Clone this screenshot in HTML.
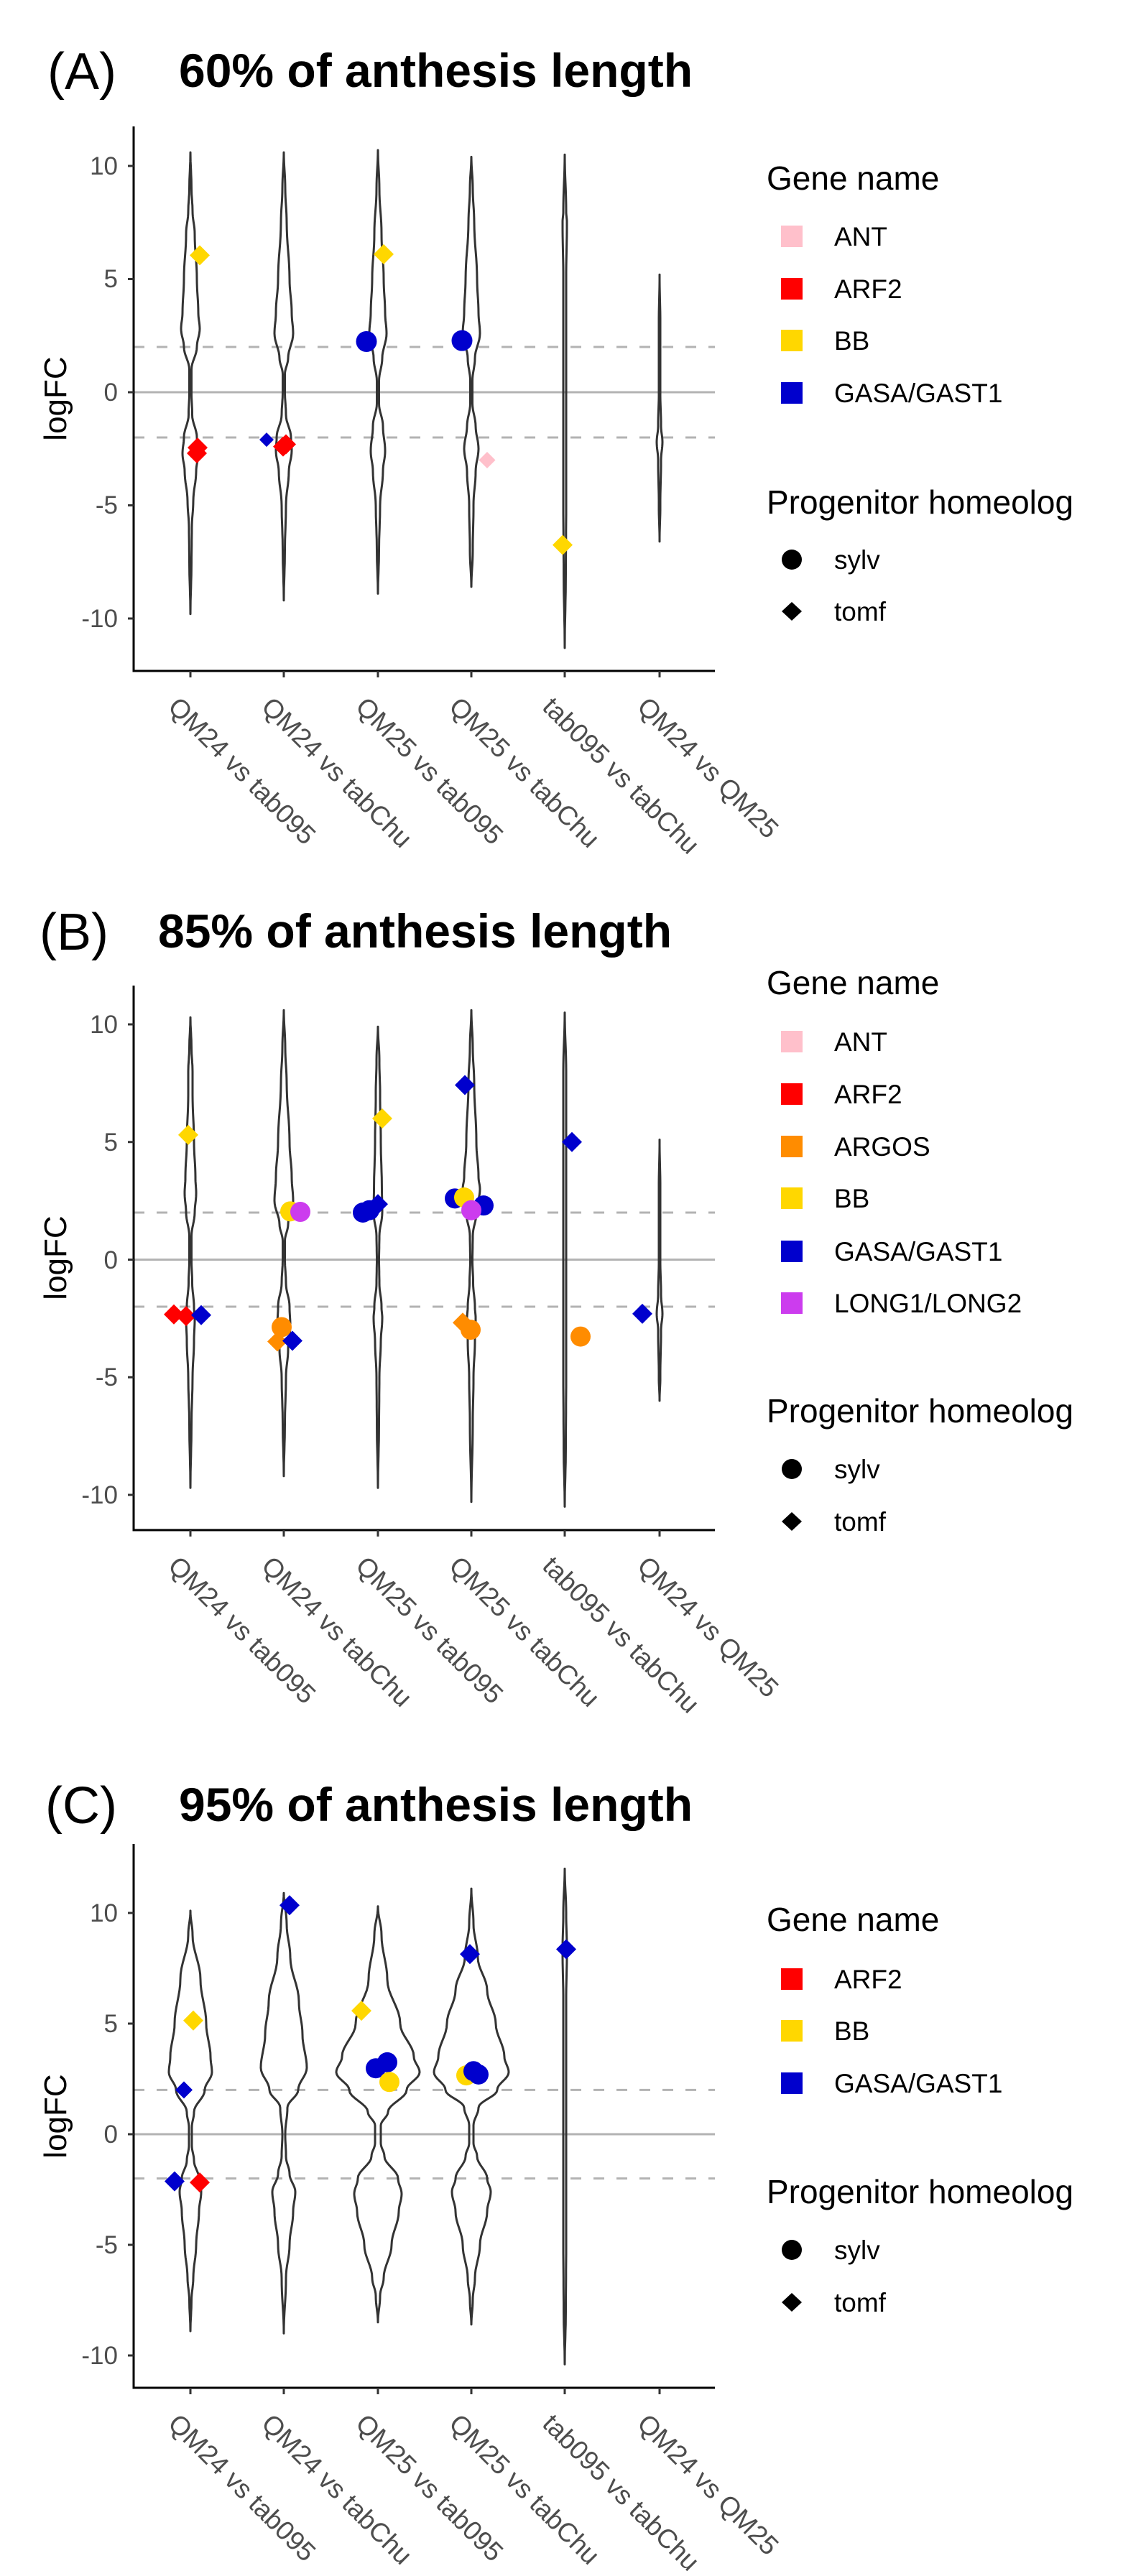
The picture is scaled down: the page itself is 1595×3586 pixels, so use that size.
<!DOCTYPE html>
<html><head><meta charset="utf-8"><style>
html,body{margin:0;padding:0;background:#fff;}
svg{display:block;}
text{font-family:"Liberation Sans",Arial,sans-serif;}
.tk{font-size:35px;fill:#4d4d4d;text-anchor:end;}
.xl{font-size:37px;fill:#4d4d4d;}
.yt{font-size:44px;fill:#000;}
.lt{font-size:46px;fill:#000;}
.ll{font-size:37px;fill:#000;}
.pl{font-size:72px;fill:#000;}
.tt{font-size:66px;font-weight:bold;fill:#000;}
</style></head><body>
<svg id="s" width="1595" height="3586" viewBox="0 0 1595 3586" xmlns="http://www.w3.org/2000/svg">
<rect width="1595" height="3586" fill="#fff"/>
<!-- Titles -->
<text class="pl" x="66" y="124">(A)</text>
<text class="tt" x="249" y="121" textLength="715" lengthAdjust="spacingAndGlyphs">60% of anthesis length</text>
<text class="pl" x="55" y="1322">(B)</text>
<text class="tt" x="220" y="1319" textLength="715" lengthAdjust="spacingAndGlyphs">85% of anthesis length</text>
<text class="pl" x="63" y="2538">(C)</text>
<text class="tt" x="249" y="2535" textLength="715" lengthAdjust="spacingAndGlyphs">95% of anthesis length</text>

<!-- y titles -->
<text class="yt" transform="translate(92,555) rotate(-90)" text-anchor="middle">logFC</text>
<text class="yt" transform="translate(92,1751) rotate(-90)" text-anchor="middle">logFC</text>
<text class="yt" transform="translate(92,2946) rotate(-90)" text-anchor="middle">logFC</text>

<!-- tick labels A -->
<text class="tk" x="164" y="243">10</text><text class="tk" x="164" y="400">5</text><text class="tk" x="164" y="558">0</text><text class="tk" x="164" y="715">-5</text><text class="tk" x="164" y="873">-10</text>
<!-- B -->
<text class="tk" x="164" y="1438">10</text><text class="tk" x="164" y="1602">5</text><text class="tk" x="164" y="1766">0</text><text class="tk" x="164" y="1929">-5</text><text class="tk" x="164" y="2093">-10</text>
<!-- C -->
<text class="tk" x="164" y="2675">10</text><text class="tk" x="164" y="2829">5</text><text class="tk" x="164" y="2983">0</text><text class="tk" x="164" y="3137">-5</text><text class="tk" x="164" y="3291">-10</text>

<!-- x labels A -->
<g id="xlA">
<text class="xl" transform="translate(232,986) rotate(45)">QM24 vs tab095</text>
<text class="xl" transform="translate(362,986) rotate(45)">QM24 vs tabChu</text>
<text class="xl" transform="translate(493,986) rotate(45)">QM25 vs tab095</text>
<text class="xl" transform="translate(623,986) rotate(45)">QM25 vs tabChu</text>
<text class="xl" transform="translate(753,986) rotate(45)">tab095 vs tabChu</text>
<text class="xl" transform="translate(885,986) rotate(45)">QM24 vs QM25</text>
</g>
<g>
<text class="xl" transform="translate(232,2182) rotate(45)">QM24 vs tab095</text>
<text class="xl" transform="translate(362,2182) rotate(45)">QM24 vs tabChu</text>
<text class="xl" transform="translate(493,2182) rotate(45)">QM25 vs tab095</text>
<text class="xl" transform="translate(623,2182) rotate(45)">QM25 vs tabChu</text>
<text class="xl" transform="translate(753,2182) rotate(45)">tab095 vs tabChu</text>
<text class="xl" transform="translate(885,2182) rotate(45)">QM24 vs QM25</text>
</g>
<g>
<text class="xl" transform="translate(232,3376) rotate(45)">QM24 vs tab095</text>
<text class="xl" transform="translate(362,3376) rotate(45)">QM24 vs tabChu</text>
<text class="xl" transform="translate(493,3376) rotate(45)">QM25 vs tab095</text>
<text class="xl" transform="translate(623,3376) rotate(45)">QM25 vs tabChu</text>
<text class="xl" transform="translate(753,3376) rotate(45)">tab095 vs tabChu</text>
<text class="xl" transform="translate(885,3376) rotate(45)">QM24 vs QM25</text>
</g>

<!-- Legends A -->
<text class="lt" x="1067" y="264">Gene name</text>
<rect x="1087" y="314" width="30" height="30" fill="#FFC0CB"/><text class="ll" x="1161" y="342">ANT</text>
<rect x="1087" y="387" width="30" height="30" fill="#FF0000"/><text class="ll" x="1161" y="415">ARF2</text>
<rect x="1087" y="459" width="30" height="30" fill="#FFD700"/><text class="ll" x="1161" y="487">BB</text>
<rect x="1087" y="532" width="30" height="30" fill="#0000CD"/><text class="ll" x="1161" y="560">GASA/GAST1</text>
<text class="lt" x="1067" y="715">Progenitor homeolog</text>
<circle cx="1102" cy="779" r="14" fill="#000"/><text class="ll" x="1161" y="792">sylv</text>
<path d="M1102 838 L1116 851 L1102 864 L1088 851 Z" fill="#000"/><text class="ll" x="1161" y="864">tomf</text>

<!-- Legend B -->
<text class="lt" x="1067" y="1384">Gene name</text>
<rect x="1087" y="1435" width="30" height="30" fill="#FFC0CB"/><text class="ll" x="1161" y="1463">ANT</text>
<rect x="1087" y="1508" width="30" height="30" fill="#FF0000"/><text class="ll" x="1161" y="1536">ARF2</text>
<rect x="1087" y="1581" width="30" height="30" fill="#FF8C00"/><text class="ll" x="1161" y="1609">ARGOS</text>
<rect x="1087" y="1653" width="30" height="30" fill="#FFD700"/><text class="ll" x="1161" y="1681">BB</text>
<rect x="1087" y="1727" width="30" height="30" fill="#0000CD"/><text class="ll" x="1161" y="1755">GASA/GAST1</text>
<rect x="1087" y="1799" width="30" height="30" fill="#CC3CEE"/><text class="ll" x="1161" y="1827">LONG1/LONG2</text>
<text class="lt" x="1067" y="1980">Progenitor homeolog</text>
<circle cx="1102" cy="2045" r="14" fill="#000"/><text class="ll" x="1161" y="2058">sylv</text>
<path d="M1102 2105 L1116 2118 L1102 2131 L1088 2118 Z" fill="#000"/><text class="ll" x="1161" y="2131">tomf</text>

<!-- Legend C -->
<text class="lt" x="1067" y="2688">Gene name</text>
<rect x="1087" y="2740" width="30" height="30" fill="#FF0000"/><text class="ll" x="1161" y="2768">ARF2</text>
<rect x="1087" y="2812" width="30" height="30" fill="#FFD700"/><text class="ll" x="1161" y="2840">BB</text>
<rect x="1087" y="2885" width="30" height="30" fill="#0000CD"/><text class="ll" x="1161" y="2913">GASA/GAST1</text>
<text class="lt" x="1067" y="3067">Progenitor homeolog</text>
<circle cx="1102" cy="3132" r="14" fill="#000"/><text class="ll" x="1161" y="3145">sylv</text>
<path d="M1102 3192 L1116 3205 L1102 3218 L1088 3205 Z" fill="#000"/><text class="ll" x="1161" y="3218">tomf</text>

<g id="plots"></g>
</svg>
<script>
(function(){
var NS="http://www.w3.org/2000/svg";
var g=document.getElementById("plots");
function el(t,a){var e=document.createElementNS(NS,t);for(var k in a)e.setAttribute(k,a[k]);g.appendChild(e);return e;}
var X=[265,395,526,656,786,918];
var C={p:"#FFC0CB",r:"#FF0000",o:"#FF8C00",y:"#FFD700",b:"#0000CD",v:"#CC3CEE"};
function panel(P){
  var Y=function(v){return P.z-P.u*v;};
  // ref lines
  el("line",{x1:186,x2:995,y1:Y(0),y2:Y(0),stroke:"#b3b3b3","stroke-width":3});
  el("line",{x1:186,x2:995,y1:Y(2),y2:Y(2),stroke:"#b3b3b3","stroke-width":3,"stroke-dasharray":"15 17"});
  el("line",{x1:186,x2:995,y1:Y(-2),y2:Y(-2),stroke:"#b3b3b3","stroke-width":3,"stroke-dasharray":"15 17"});
  // violins
  P.v.forEach(function(pr,i){
    if(!pr)return;
    var cx=X[i],L=[],R=[];
    // sample with smooth (cosine) interpolation
    for(var j=0;j<pr.length-1;j++){
      var a=pr[j],b=pr[j+1];
      for(var s=0;s<8;s++){var t=s/8,w=(1-Math.cos(t*Math.PI))/2;var v=a[0]+(b[0]-a[0])*t,h=a[1]+(b[1]-a[1])*w;
        L.push((cx-h).toFixed(1)+" "+Y(v).toFixed(1));R.push((cx+h).toFixed(1)+" "+Y(v).toFixed(1));}
    }
    var last=pr[pr.length-1];
    L.push((cx-last[1])+" "+Y(last[0]).toFixed(1));R.push((cx+last[1])+" "+Y(last[0]).toFixed(1));
    el("path",{d:"M"+L.join(" L")+" L"+R.reverse().join(" L")+"Z",fill:"none",stroke:"#333","stroke-width":3,"stroke-linejoin":"round"});
  });
  // points
  P.pts.forEach(function(p){
    var x=p[0],y=Y(p[1]),c=C[p[3]],s=p[4]||14;
    if(p[2]=="c")el("circle",{cx:x,cy:y,r:s,fill:c});
    else el("path",{d:"M"+x+" "+(y-s)+" L"+(x+s)+" "+y+" L"+x+" "+(y+s)+" L"+(x-s)+" "+y+"Z",fill:c});
  });
  // axes
  el("line",{x1:186,x2:186,y1:P.t,y2:P.b+1.5,stroke:"#000","stroke-width":3});
  el("line",{x1:184.5,x2:995,y1:P.b,y2:P.b,stroke:"#000","stroke-width":3});
  [10,5,0,-5,-10].forEach(function(v){el("line",{x1:178,x2:186,y1:Y(v),y2:Y(v),stroke:"#333","stroke-width":3});});
  X.forEach(function(x){el("line",{x1:x,x2:x,y1:P.b,y2:P.b+9,stroke:"#333","stroke-width":3});});
}
panel({z:546,u:31.5,t:176,b:934,
 v:[
  [[10.6,0],[9,1.5],[8,3],[7,6],[5,9],[3.5,11],[2.8,13],[2,9],[1,1.5],[0,1.5],[-1,2.5],[-2,9],[-2.7,11],[-3.5,8],[-4.8,4],[-6,2],[-7.5,1.5],[-9.8,0]],
  [[10.6,0],[9,2],[7.5,4],[5,8],[3.5,11],[2.6,13],[1.5,6],[0.8,1.5],[0,1.5],[-1,3],[-2,10],[-2.6,11],[-3.5,7],[-5,3],[-7,1.5],[-9.2,0]],
  [[10.7,0],[9,2],[7,5],[5,8],[3.5,10],[2.6,12],[1.5,6],[0.5,1.5],[-0.5,1.5],[-1.5,7],[-2.6,10],[-3.5,7],[-5,3],[-7,1.5],[-8.9,0]],
  [[10.4,0],[9,2],[7.5,4],[5,8],[3.5,10],[2.6,12],[1.5,5],[0.5,1.5],[-0.5,1.5],[-1.5,6],[-2.5,10],[-3.5,6],[-5,3],[-7,2],[-8.6,0]],
  [[10.5,0],[8,2],[7.5,3],[5,2],[0,2],[-5,2],[-8,1.5],[-11.3,0]],
  [[5.2,0],[3,1],[0,1],[-1.5,2],[-2.2,4],[-3,2],[-5,1],[-6.6,0]]
 ],
 pts:[[278,6.05,"d","y"],[275,-2.45,"d","r"],[274,-2.7,"d","r"],[371,-2.1,"d","b",10],[398,-2.3,"d","r"],[394,-2.4,"d","r"],
  [510,2.24,"c","b",14.5],[534,6.1,"d","y"],[643,2.28,"c","b",14.5],[678,-3.0,"d","p",11.5],[783,-6.75,"d","y"]]
});
panel({z:1753.5,u:32.75,t:1372,b:2130,
 v:[
  [[10.3,0],[9,1.5],[8,3],[7,3],[5,5],[3.5,7],[2.8,8],[2,6],[1,1.5],[0,1.5],[-1,2.5],[-2,5],[-2.5,6],[-3.5,5],[-5,3],[-7,1.5],[-9.7,0]],
  [[10.6,0],[9,2],[7.5,4],[5,8],[3.5,11],[2.5,13],[1.5,6],[0.8,1.5],[0,1.5],[-1,3],[-2,8],[-2.8,9],[-3.8,6],[-5,3],[-7,1.5],[-9.2,0]],
  [[9.9,0],[8.5,2],[7,3],[5,4],[3,5.5],[2,6],[1,2],[0,1.5],[-1,2],[-2,5],[-2.5,6],[-3.5,4],[-5,2],[-7,1.5],[-9.7,0]],
  [[10.6,0],[9,2],[7.5,4],[5,7],[3.5,10],[3,12],[2,7],[1,2],[0,1.5],[-1,2.5],[-2,5],[-2.5,6],[-3.5,5],[-5,3],[-7,2],[-10.3,0]],
  [[10.5,0],[8,2],[5,2],[0,2],[-5,2],[-8,1.5],[-10.5,0]],
  [[5.1,0],[3,1],[0,1],[-1.5,2],[-2.3,4],[-3,2],[-5,1],[-6.0,0]]
 ],
 pts:[[262,5.3,"d","y"],[242,-2.33,"d","r"],[259,-2.4,"d","r"],[280,-2.36,"d","b"],
  [404,2.05,"c","y"],[418,2.03,"c","v"],[392,-2.87,"c","o"],[386,-3.48,"d","o"],[407,-3.45,"d","b"],
  [505,2.0,"c","b"],[514,2.1,"c","b"],[526,2.36,"d","b"],[532,6.0,"d","y"],
  [647,7.42,"d","b"],[633,2.6,"c","b"],[646,2.64,"c","y"],[673,2.3,"c","b"],[656,2.1,"c","v"],[644,-2.68,"d","o"],[655,-2.98,"c","o"],
  [796,5.0,"d","b"],[808,-3.27,"c","o"],[894,-2.3,"d","b"]]
});
panel({z:2971,u:30.8,t:2567,b:3324,
 v:[
  [[10.1,0],[9,3],[7,14],[5,22],[3.5,28],[2.8,30],[2,20],[1,5],[0.3,2],[-0.5,2],[-1.2,5],[-2,12],[-2.6,15],[-3.5,12],[-5,8],[-6.5,4],[-7.5,1.5],[-8.9,0]],
  [[10.9,0],[9.5,4],[8,9],[6,21],[4.5,26],[3,32],[2,20],[1.2,5],[0,2],[-1,3],[-1.8,8],[-2.6,16],[-3.5,13],[-5,8],[-6.5,3],[-9,0]],
  [[10.3,0],[9,5],[7,13],[5,31],[3.5,50],[2.8,58],[2,40],[1,14],[0.4,4],[-0.4,4],[-1,9],[-2,28],[-2.7,33],[-3.5,29],[-5,19],[-6.5,8],[-7.3,3],[-8.5,0]],
  [[11.1,0],[9.5,3],[8,9],[6.5,22],[5,34],[3.5,46],[2.8,52],[2,36],[1.2,10],[0.4,3],[-0.4,3],[-1,8],[-2,22],[-2.6,27],[-3.5,22],[-5,12],[-6.5,5],[-7.5,2],[-8.6,0]],
  [[12.0,0],[10,2],[8.3,3],[6,2],[0,2],[-5,2],[-8,1.5],[-10.4,0]],
  null
 ],
 pts:[[269,5.14,"d","y"],[256,2.0,"d","b",12],[243,-2.13,"d","b"],[278,-2.18,"d","r"],
  [403,10.35,"d","b"],
  [503,5.58,"d","y"],[523,2.98,"c","b"],[539,3.25,"c","b"],[542,2.36,"c","y"],
  [654,8.14,"d","b"],[649,2.66,"c","y"],[659,2.85,"c","b"],[666,2.7,"c","b"],
  [788,8.36,"d","b"]]
});
})();
</script>
</body></html>
